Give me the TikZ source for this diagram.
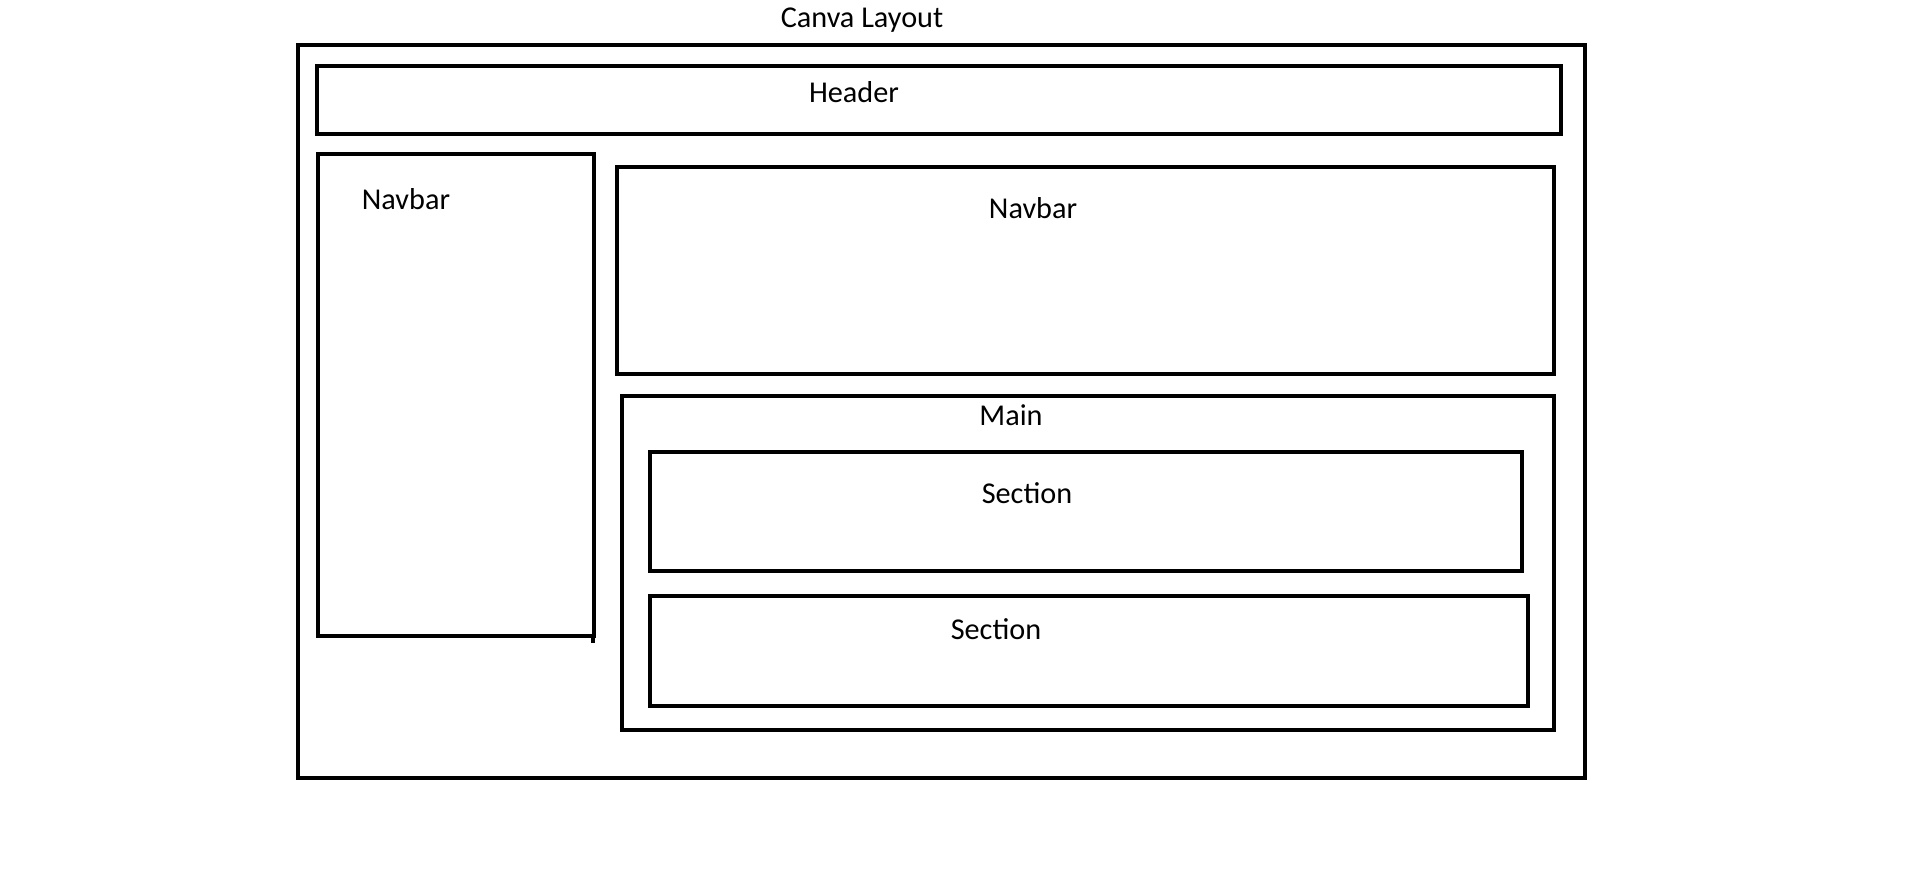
\documentclass[tikz,border=0pt]{standalone}
\usepackage{fontspec}
\setmainfont{Carlito}
\usepackage{xcolor}
\usepackage{tikz}
\usetikzlibrary{calc}
\definecolor{ink}{HTML}{000000}
\tikzset{
  box/.style={draw=ink, line width=0.95pt},
  lab/.style={text=ink, font=\fontsize{8.6}{10}\selectfont, inner sep=0pt},
}
\begin{document}
\begin{tikzpicture}[x=0.01cm, y=-0.01cm]
  \useasboundingbox (0,0) rectangle (1911,869);
  % page frame
  \draw[box] (298,45) rectangle (1585,778);
  \node[lab] (title) at (862,20) {Canva Layout};
  % header strip
  \draw[box] (317,66) rectangle (1561,134);
  \node[lab] (header) at (854,92) {Header};
  % side navbar (left)
  \draw[box] (318,154) rectangle (594,636);
  \draw[box] (593,636)--(593,643);
  \node[lab] (sidenav) at (406,199) {Navbar};
  % top navbar (right)
  \draw[box] (617,167) rectangle (1554,374);
  \node[lab] (topnav) at (1033,208) {Navbar};
  % main with two sections
  \draw[box] (622,396) rectangle (1554,730);
  \node[lab] (main) at (1011,415) {Main};
  \draw[box] (650,452) rectangle (1522,571);
  \node[lab] (secA) at (1027,493) {Section};
  \draw[box] (650,596) rectangle (1528,706);
  \node[lab] (secB) at (996,629) {Section};
\end{tikzpicture}
\end{document}
